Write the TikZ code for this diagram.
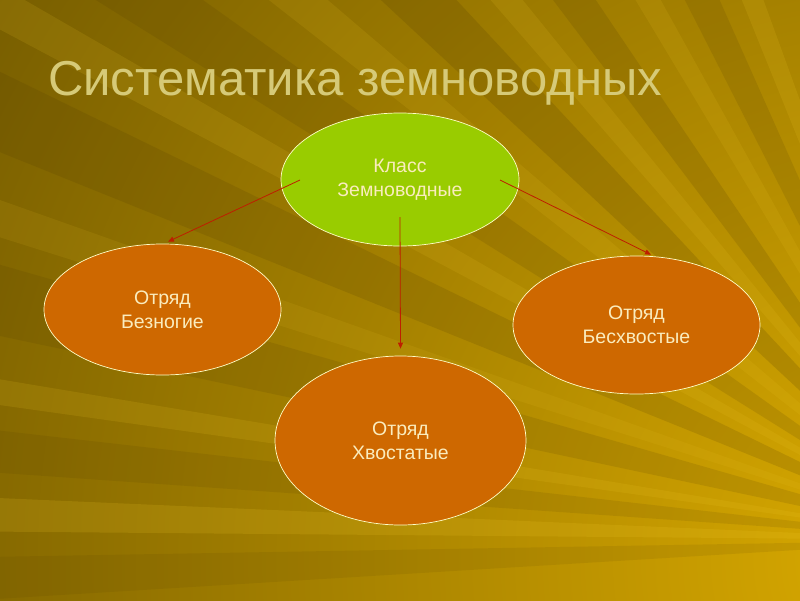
\documentclass[tikz,border=0pt]{standalone}
\usepackage{fontspec}
\setmainfont{Liberation Sans}
\usetikzlibrary{arrows.meta,calc,shapes.geometric}
\definecolor{bgdark}{RGB}{112,88,0}
\definecolor{bglight}{RGB}{218,170,0}
\definecolor{raydark}{RGB}{80,58,0}
\definecolor{raylight}{RGB}{240,200,40}
\definecolor{titlecol}{RGB}{214,202,120}
\definecolor{ovalgreen}{RGB}{153,204,0}
\definecolor{ovalorange}{RGB}{206,104,0}
\definecolor{ovaledge}{RGB}{255,255,200}
\definecolor{txtcol}{RGB}{250,236,190}
\definecolor{arrcol}{RGB}{190,30,0}
\tikzset{
  oval/.style={ellipse, draw=ovaledge, line width=0.7pt, inner sep=0pt,
    text=txtcol, font=\fontsize{19.5}{24}\selectfont, align=center},
  greenoval/.style={oval, fill=ovalgreen},
  orangeoval/.style={oval, fill=ovalorange},
  arr/.style={draw=arrcol, line width=0.8pt, -{Triangle[length=6pt,width=5pt]}}
}
\begin{document}
\begin{tikzpicture}[x=1pt,y=-1pt]
\useasboundingbox (0,0) rectangle (800,600);
\begin{scope}
\clip (0,0) rectangle (800,600);
\shade[inner color=bglight, outer color=bgdark] (900,560) circle (1150);
\coordinate (apex) at (960,540);
\foreach \a/\b/\c/\o in {
  183.5/181/raydark/0.10, 179.5/177.5/raylight/0.16, 176/173.5/raydark/0.12,
  172/170.5/raylight/0.14, 168/164/raydark/0.14, 162.5/160.5/raylight/0.10,
  158/154/raydark/0.16, 152/150/raylight/0.13, 148/144.5/raydark/0.15,
  142/139.5/raylight/0.12, 137/133/raydark/0.18, 131/129/raylight/0.13,
  127/124/raydark/0.16, 121/119/raylight/0.12, 117/114/raydark/0.14,
  112/110/raylight/0.14}
  \fill[\c, opacity=\o] (apex) -- ($(apex)+(\a:1700pt)$) -- ($(apex)+(\b:1700pt)$) -- cycle;
\end{scope}

\node[anchor=base west, text=titlecol, font=\fontsize{49}{60}\selectfont, inner sep=0pt]
  (title) at (48,95) {Систематика земноводных};

\node[greenoval, minimum width=238pt, minimum height=133pt] (top) at (400,179.5)
  {Класс\\Земноводные};
\node[orangeoval, minimum width=237pt, minimum height=131pt] (l) at (162.5,309.5)
  {Отряд\\Безногие};
\node[orangeoval, minimum width=247pt, minimum height=138pt] (r) at (636.5,325)
  {Отряд\\Бесхвостые};
\node[orangeoval, minimum width=251pt, minimum height=169pt] (b) at (400.5,440.5)
  {Отряд\\Хвостатые};

\coordinate (s1) at (300,180);
\coordinate (s2) at (500,180);
\coordinate (s3) at (400,217);
\draw[arr] (s1) -- ([xshift=5.5pt,yshift=2pt]l.north);
\draw[arr] (s2) -- ([xshift=14.5pt,yshift=1pt]r.north);
\draw[arr] (s3) -- ([yshift=7pt]b.north);
\end{tikzpicture}
\end{document}
